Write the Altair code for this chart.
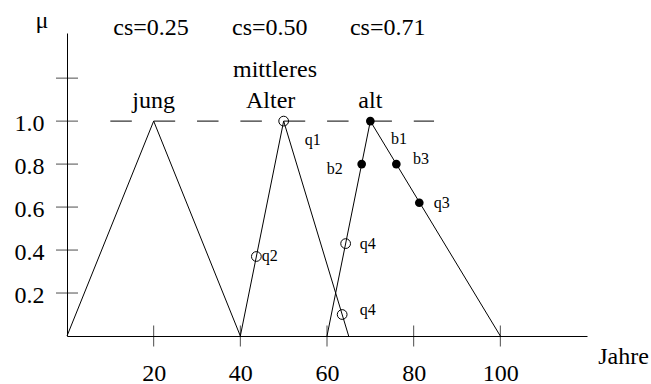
import altair as alt
import pandas as pd

FONT = "Liberation Serif"

# Membership functions (age in years, membership degree)
set_names = ["jung", "jung", "jung", "mittel", "mittel", "mittel", "alt", "alt", "alt"]
set_x = [0, 20, 40, 40, 50, 65, 60, 70, 100]
set_mu = [0, 1, 0, 0, 1, 0, 0, 1, 0]
set_order = [0, 1, 2, 0, 1, 2, 0, 1, 2]

# Query / boundary points
open_x = [50, 43.7, 64.3, 63.5]
open_mu = [1.0, 0.37, 0.43, 0.10]
filled_x = [70, 68, 76, 81.3]
filled_mu = [1.0, 0.8, 0.8, 0.62]

point_labels = ["q1", "q2", "q4", "q4", "b1", "b2", "b3", "q3"]
point_label_x = [56.7, 46.8, 69.4, 69.4, 76.6, 61.8, 81.7, 86.5]
point_label_mu = [0.912, 0.372, 0.428, 0.12, 0.915, 0.775, 0.825, 0.62]

# Set names and similarity values above the curves
big_labels = ["jung", "Alter", "mittleres", "alt", "cs=0.25", "cs=0.50", "cs=0.71"]
big_label_x = [20.0, 47.0, 48.0, 70.0, 19.4, 46.8, 74.0]
big_label_mu = [1.06, 1.06, 1.205, 1.06, 1.40, 1.40, 1.40]

x_tick_values = [20, 40, 60, 80, 100]
y_tick_values = [0.2, 0.4, 0.6, 0.8, 1.0, 1.2]
y_label_values = [0.2, 0.4, 0.6, 0.8, 1.0]

x_scale = alt.Scale(domain=[0, 120], nice=False, zero=False)
y_scale = alt.Scale(domain=[0, 1.41], nice=False, zero=False)

curves = pd.DataFrame({"set": set_names, "x": set_x, "mu": set_mu, "o": set_order})
opens = pd.DataFrame({"x": open_x, "mu": open_mu})
filleds = pd.DataFrame({"x": filled_x, "mu": filled_mu})
plabels = pd.DataFrame({"t": point_labels, "x": point_label_x, "mu": point_label_mu})
blabels = pd.DataFrame({"t": big_labels, "x": big_label_x, "mu": big_label_mu})
xticks = pd.DataFrame({"x": x_tick_values, "mu": [0] * len(x_tick_values)})
yticks = pd.DataFrame({"x": [0] * len(y_tick_values), "mu": y_tick_values})
level = pd.DataFrame({"x": [10], "x2": [84.7], "mu": [1.0]})
mu_axis = pd.DataFrame({"t": ["μ"], "x": [-5.8], "mu": [1.465]})
x_title = pd.DataFrame({"t": ["Jahre"], "x": [122.6], "mu": [-0.098]})

X = alt.X("x:Q", scale=x_scale,
          axis=alt.Axis(values=x_tick_values, title=None, grid=False, ticks=False,
                        labelPadding=44, labelBaseline="alphabetic", domainColor="black",
                        labelFont=FONT, labelFontSize=24, labelColor="black"))
Y = alt.Y("mu:Q", scale=y_scale,
          axis=alt.Axis(values=y_label_values, format=".1f", title=None, grid=False,
                        ticks=False, labelPadding=23, labelOffset=2, domainColor="black",
                        labelFont=FONT, labelFontSize=24, labelColor="black"))

Xp = alt.X("x:Q", scale=x_scale)
Yp = alt.Y("mu:Q", scale=y_scale)

lines = alt.Chart(curves).mark_line(color="black", strokeWidth=1).encode(
    x=X, y=Y, detail="set:N", order="o:Q")

dashed = alt.Chart(level).mark_rule(color="black", strokeWidth=1,
                                    strokeDash=[21.5, 21.85]).encode(
    x=Xp, x2="x2:Q", y=Yp)

xt = alt.Chart(xticks).mark_tick(orient="vertical", size=21, thickness=1,
                                 color="black").encode(x=Xp, y=Yp)
yt = alt.Chart(yticks).mark_tick(orient="horizontal", size=22, thickness=1,
                                 color="black").encode(x=Xp, y=Yp)

open_pts = alt.Chart(opens).mark_point(shape="circle", filled=False, size=95,
                                       color="black", strokeWidth=1,
                                       opacity=1).encode(x=Xp, y=Yp)
filled_pts = alt.Chart(filleds).mark_point(shape="circle", filled=True, size=75,
                                           color="black", opacity=1).encode(x=Xp, y=Yp)

small_text = alt.Chart(plabels).mark_text(font=FONT, fontSize=16, color="black",
                                          align="center", baseline="middle").encode(
    x=Xp, y=Yp, text="t:N")
big_text = alt.Chart(blabels).mark_text(font=FONT, fontSize=24, color="black",
                                        align="center", baseline="alphabetic").encode(
    x=Xp, y=Yp, text="t:N")
mu_text = alt.Chart(mu_axis).mark_text(font=FONT, fontSize=24, color="black",
                                       align="center", baseline="middle").encode(
    x=Xp, y=Yp, text="t:N")
xt_text = alt.Chart(x_title).mark_text(font=FONT, fontSize=24, color="black",
                                       align="left", baseline="middle").encode(
    x=Xp, y=Yp, text="t:N")

chart = alt.layer(
    lines, dashed, xt, yt, open_pts, filled_pts, small_text, big_text, mu_text, xt_text
).properties(
    width=520, height=303,
    autosize=alt.AutoSizeParams(type="none"),
    padding={"left": 67, "top": 33, "right": 64, "bottom": 48},
    background="white",
).configure_view(stroke=None)

chart.save("out.html", embed_options={"renderer": "svg", "actions": False})
